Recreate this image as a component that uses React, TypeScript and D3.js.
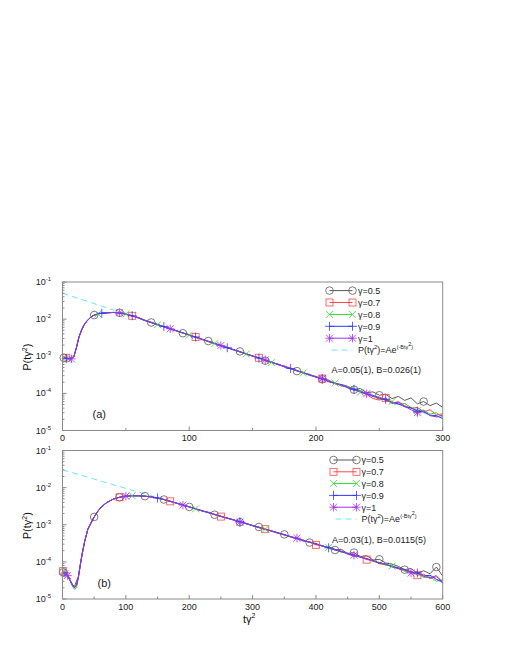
import React, { useEffect, useRef } from "react";
import * as d3 from "d3";

const labels = ["γ=0.5", "γ=0.7", "γ=0.8", "γ=0.9", "γ=1"];
const colors = ["#5a5a5a", "#ff4848", "#30d830", "#3434ff", "#a030f0"];
const shapes = ["circle", "square", "cross", "plus", "star"];

// panel (a) -- x is t*gamma^2, values are log10 P
const xA = [1, 3, 5, 7, 9, 11, 13, 15, 17, 19, 21, 23, 25, 28, 31, 35, 40, 45, 50, 55, 60,
  65, 70, 75, 80, 85, 90, 95, 100, 105, 110, 115, 120, 125, 130, 135, 140, 145, 150, 155, 160,
  165, 170, 175, 180, 185, 190, 195, 200, 205, 210, 215, 220, 225, 230, 235, 240, 245, 250,
  255, 260, 265, 270, 275, 280, 285, 290, 295, 300];
const a05 = [-3.04, -3.05, -3.06, -3.05, -3.0, -2.76, -2.48, -2.29, -2.16, -2.06, -1.99, -1.93, -1.89, -1.86, -1.84, -1.83, -1.82, -1.83, -1.86, -1.91, -1.96,
  -2.03, -2.09, -2.15, -2.2, -2.27, -2.31, -2.38, -2.42, -2.49, -2.55, -2.59, -2.66, -2.72, -2.76, -2.83, -2.87, -2.95, -2.99, -3.04, -3.12,
  -3.15, -3.23, -3.26, -3.33, -3.4, -3.43, -3.52, -3.54, -3.62, -3.64, -3.74, -3.76, -3.81, -3.9, -3.87, -3.98, -3.96, -4.05,
  -4.02, -4.14, -4.08, -4.19, -4.12, -4.28, -4.22, -4.33, -4.26, -4.38];
const a07 = [-3.03, -3.04, -3.05, -3.06, -3.01, -2.77, -2.49, -2.3, -2.16, -2.06, -1.99, -1.93, -1.89, -1.86, -1.84, -1.83, -1.82, -1.83, -1.86, -1.91, -1.97,
  -2.04, -2.1, -2.14, -2.21, -2.26, -2.32, -2.37, -2.44, -2.48, -2.55, -2.6, -2.65, -2.72, -2.77, -2.82, -2.89, -2.93, -3.0, -3.04, -3.11,
  -3.17, -3.21, -3.29, -3.33, -3.38, -3.46, -3.49, -3.57, -3.6, -3.69, -3.71, -3.8, -3.83, -3.92, -3.94, -4.03, -4.14, -4.18,
  -4.12, -4.27, -4.22, -4.33, -4.4, -4.38, -4.5, -4.44, -4.58, -4.55];
const a08 = [-3.06, -3.05, -3.07, -3.06, -3.0, -2.75, -2.47, -2.29, -2.15, -2.06, -1.98, -1.93, -1.89, -1.86, -1.84, -1.83, -1.82, -1.84, -1.86, -1.91, -1.96,
  -2.03, -2.08, -2.15, -2.21, -2.25, -2.32, -2.38, -2.43, -2.49, -2.54, -2.61, -2.66, -2.71, -2.78, -2.83, -2.88, -2.94, -2.99, -3.06, -3.1,
  -3.17, -3.22, -3.27, -3.34, -3.38, -3.45, -3.51, -3.55, -3.63, -3.66, -3.72, -3.8, -3.82, -3.86, -3.97, -4.0, -4.08, -4.1,
  -4.2, -4.22, -4.3, -4.27, -4.38, -4.47, -4.45, -4.56, -4.52, -4.64];
const a09 = [-3.05, -3.06, -3.06, -3.05, -3.01, -2.77, -2.48, -2.3, -2.16, -2.07, -1.99, -1.93, -1.89, -1.86, -1.84, -1.83, -1.82, -1.83, -1.87, -1.91, -1.97,
  -2.04, -2.09, -2.15, -2.2, -2.26, -2.31, -2.37, -2.43, -2.48, -2.54, -2.6, -2.65, -2.71, -2.77, -2.82, -2.88, -2.94, -2.99, -3.05, -3.11,
  -3.16, -3.22, -3.28, -3.33, -3.39, -3.44, -3.5, -3.56, -3.61, -3.68, -3.73, -3.77, -3.85, -3.89, -3.96, -4.02, -4.05, -4.13,
  -4.16, -4.25, -4.28, -4.36, -4.39, -4.48, -4.5, -4.59, -4.6, -4.68];
const a10 = [-3.07, -3.06, -3.08, -3.07, -3.02, -2.77, -2.49, -2.3, -2.16, -2.06, -1.99, -1.93, -1.9, -1.86, -1.84, -1.83, -1.82, -1.83, -1.86, -1.92, -1.96,
  -2.03, -2.09, -2.14, -2.21, -2.26, -2.32, -2.37, -2.42, -2.49, -2.54, -2.6, -2.66, -2.71, -2.77, -2.83, -2.88, -2.93, -3.0, -3.05, -3.1,
  -3.17, -3.21, -3.28, -3.32, -3.39, -3.45, -3.49, -3.56, -3.6, -3.67, -3.74, -3.77, -3.84, -3.91, -3.93, -4.01, -4.09, -4.11,
  -4.18, -4.26, -4.24, -4.35, -4.44, -4.52, -4.47, -4.6, -4.63, -4.59];
const fitAx = [0, 300];
const fitAy = [-1.3, -4.69];
// where each series puts its symbol (x, snapped to nearest sample)
const marksA = [
  [1, 25, 47.5, 70, 93, 115, 138, 161, 184, 207, 230, 252, 283],
  [3, 53, 103, 153, 203, 253],
  [5, 28, 50, 75, 98, 121, 144, 167, 190, 213, 236, 259, 282],
  [3, 30, 56, 81, 106, 131, 157, 182, 207, 232, 256, 282],
  [7, 46, 85, 124, 162, 203, 241, 281],
];

// panel (b)
const xB = [1, 4, 8, 12, 16, 19, 22, 25, 28, 31, 35, 40, 45, 50, 56, 62,
  70, 80, 90, 100, 110, 120, 130, 140, 150, 160, 170, 180, 190, 200,
  210, 220, 230, 240, 250, 260, 270, 280, 290, 300, 310, 320, 330, 340, 350, 360, 370, 380, 390, 400,
  410, 420, 430, 440, 450, 460, 470, 480, 490, 500, 510, 520, 530, 540, 550, 560, 570, 580, 590, 600];
const b05 = [-4.28, -4.3, -4.37, -4.5, -4.62, -4.66, -4.52, -4.4, -4.1, -3.79, -3.45, -3.12, -2.95, -2.79, -2.63, -2.51,
  -2.4, -2.31, -2.26, -2.23, -2.22, -2.22, -2.23, -2.25, -2.28, -2.32, -2.36, -2.42, -2.47, -2.52,
  -2.57, -2.63, -2.66, -2.73, -2.77, -2.83, -2.86, -2.93, -2.96, -3.03, -3.06, -3.13, -3.16, -3.23, -3.26, -3.33, -3.36, -3.41, -3.48, -3.5,
  -3.58, -3.6, -3.68, -3.66, -3.78, -3.75, -3.86, -3.83, -3.95, -3.93, -4.03, -4.06, -4.12, -4.21, -4.18, -4.3, -4.24, -4.32, -4.14, -4.38];
const b07 = [-4.25, -4.28, -4.36, -4.5, -4.64, -4.7, -4.64, -4.42, -4.09, -3.78, -3.45, -3.12, -2.95, -2.79, -2.63, -2.51,
  -2.4, -2.31, -2.26, -2.23, -2.22, -2.22, -2.23, -2.25, -2.28, -2.32, -2.37, -2.42, -2.46, -2.52,
  -2.58, -2.62, -2.68, -2.72, -2.78, -2.82, -2.87, -2.92, -2.98, -3.02, -3.08, -3.12, -3.17, -3.23, -3.27, -3.32, -3.38, -3.42, -3.46, -3.54,
  -3.56, -3.63, -3.66, -3.74, -3.76, -3.83, -3.86, -3.94, -3.96, -4.05, -4.08, -4.1, -4.19, -4.24, -4.25, -4.36, -4.33, -4.45, -4.4, -4.52];
const b08 = [-4.3, -4.31, -4.38, -4.52, -4.67, -4.74, -4.7, -4.44, -4.1, -3.78, -3.44, -3.12, -2.94, -2.79, -2.63, -2.51,
  -2.4, -2.31, -2.26, -2.23, -2.22, -2.22, -2.23, -2.25, -2.28, -2.32, -2.37, -2.41, -2.47, -2.51,
  -2.57, -2.62, -2.67, -2.73, -2.77, -2.82, -2.88, -2.92, -2.97, -3.02, -3.07, -3.12, -3.18, -3.22, -3.27, -3.33, -3.37, -3.42, -3.47, -3.52,
  -3.58, -3.61, -3.67, -3.73, -3.76, -3.84, -3.86, -3.91, -3.99, -4.01, -4.09, -4.11, -4.16, -4.25, -4.29, -4.31, -4.42, -4.4, -4.52, -4.48];
const b09 = [-4.28, -4.3, -4.36, -4.49, -4.63, -4.69, -4.63, -4.41, -4.08, -3.78, -3.45, -3.12, -2.95, -2.79, -2.63, -2.51,
  -2.4, -2.31, -2.26, -2.23, -2.22, -2.22, -2.23, -2.25, -2.28, -2.32, -2.37, -2.42, -2.47, -2.52,
  -2.57, -2.62, -2.67, -2.72, -2.77, -2.82, -2.87, -2.92, -2.97, -3.02, -3.07, -3.12, -3.17, -3.22, -3.27, -3.32, -3.37, -3.43, -3.47, -3.52,
  -3.57, -3.62, -3.68, -3.72, -3.78, -3.81, -3.88, -3.91, -3.97, -4.03, -4.06, -4.13, -4.16, -4.22, -4.27, -4.3, -4.38, -4.36, -4.47, -4.55];
const b10 = [-4.31, -4.32, -4.37, -4.5, -4.64, -4.7, -4.62, -4.42, -4.09, -3.79, -3.45, -3.12, -2.95, -2.79, -2.63, -2.51,
  -2.4, -2.31, -2.26, -2.23, -2.22, -2.22, -2.23, -2.25, -2.28, -2.32, -2.37, -2.42, -2.47, -2.52,
  -2.57, -2.63, -2.67, -2.72, -2.78, -2.82, -2.87, -2.93, -2.97, -3.02, -3.08, -3.12, -3.17, -3.21, -3.28, -3.32, -3.36, -3.44, -3.46, -3.53,
  -3.56, -3.63, -3.66, -3.71, -3.79, -3.82, -3.85, -3.93, -3.96, -4.04, -4.05, -4.14, -4.18, -4.2, -4.3, -4.27, -4.39, -4.43, -4.37, -4.58];
const fitBx = [0, 600];
const fitBy = [-1.52, -4.52];
const marksB = [
  [1, 51, 88, 126, 165, 203, 238, 276, 314, 352, 390, 427, 465, 505, 543, 589],
  [1, 88, 167, 246, 325, 404, 483, 563],
  [4, 109, 212, 316, 420, 523],
  [4, 146, 284, 422, 560],
  [8, 97, 188, 279, 370, 461, 552],
];

const xTicksA = [0, 100, 200, 300];
const xTicksB = [0, 100, 200, 300, 400, 500, 600];
const yExps = [-1, -2, -3, -4, -5];

const FONT = "'Liberation Sans', Arial, Helvetica, sans-serif";

function drawMarker(g, shape, x, y, color) {
  const s = 3.5;
  if (shape === "circle") {
    g.append("circle").attr("cx", x).attr("cy", y).attr("r", 3.8)
      .attr("fill", "none").attr("stroke", color).attr("stroke-width", 0.8);
  } else if (shape === "square") {
    g.append("rect").attr("x", x - s).attr("y", y - s).attr("width", 2 * s).attr("height", 2 * s)
      .attr("fill", "none").attr("stroke", color).attr("stroke-width", 0.8);
  } else {
    let d = "";
    if (shape === "cross" || shape === "star")
      d += `M${x - s},${y - s}L${x + s},${y + s}M${x - s},${y + s}L${x + s},${y - s}`;
    if (shape === "plus") {
      const p = 4.5;
      d += `M${x - p},${y}L${x + p},${y}M${x},${y - p}L${x},${y + p}`;
    }
    if (shape === "star") {
      const p = 4.2;
      d += `M${x - p},${y}L${x + p},${y}M${x},${y - p}L${x},${y + p}`;
    }
    g.append("path").attr("d", d).attr("fill", "none").attr("stroke", color).attr("stroke-width", 0.8);
  }
}

function drawPanel(svg, cfg) {
  const x = d3.scaleLinear().domain([0, cfg.xMax]).range([62.5, 442.7]);
  const y = d3.scaleLog().domain([1e-5, 1e-1]).range([cfg.bottom, cfg.top]);
  const g = svg.append("g");

  // fit line
  const line = d3.line().x((d) => x(d[0])).y((d) => y(Math.pow(10, d[1])));
  g.append("path")
    .datum(cfg.fitX.map((v, i) => [v, cfg.fitY[i]]))
    .attr("d", line)
    .attr("fill", "none")
    .attr("stroke", "#6ee8f0")
    .attr("stroke-width", 1)
    .attr("stroke-dasharray", "6,4");

  cfg.series.forEach((ys, k) => {
    const pts = cfg.xs.map((v, i) => [v, ys[i]]).filter((d) => d[1] !== undefined);
    g.append("path")
      .datum(pts)
      .attr("d", line)
      .attr("fill", "none")
      .attr("stroke", colors[k])
      .attr("stroke-width", 1);
  });
  cfg.series.forEach((ys, k) => {
    cfg.marks[k].forEach((mx) => {
      const i = d3.leastIndex(cfg.xs, (v) => Math.abs(v - mx));
      drawMarker(g, shapes[k], x(cfg.xs[i]), y(Math.pow(10, ys[i])), colors[k]);
    });
  });

  // frame
  g.append("rect")
    .attr("x", 62.5).attr("y", cfg.top)
    .attr("width", 442.7 - 62.5).attr("height", cfg.bottom - cfg.top)
    .attr("fill", "none").attr("stroke", "#8a8a8a").attr("stroke-width", 1);

  // x ticks (inward)
  const xt = d3.range(0, cfg.xMax + 1, 50);
  xt.forEach((t) => {
    const len = t % 100 === 0 ? 4 : 2.5;
    g.append("line").attr("x1", x(t)).attr("x2", x(t))
      .attr("y1", cfg.bottom).attr("y2", cfg.bottom - len)
      .attr("stroke", "#8a8a8a");
  });
  cfg.xTicks.forEach((t) => {
    g.append("text").attr("x", x(t)).attr("y", cfg.bottom + 10.5)
      .attr("text-anchor", "middle").attr("font-size", 9).attr("font-family", FONT)
      .attr("fill", "#222").text(t);
  });

  // y ticks, log
  for (let e = -5; e < -1 + 1; e++) {
    const base = Math.pow(10, e);
    g.append("line").attr("x1", 62.5).attr("x2", 66.5)
      .attr("y1", y(base)).attr("y2", y(base)).attr("stroke", "#8a8a8a");
    if (e < -1) {
      for (let m = 2; m < 10; m++) {
        g.append("line").attr("x1", 62.5).attr("x2", 64.5)
          .attr("y1", y(base * m)).attr("y2", y(base * m)).attr("stroke", "#8a8a8a");
      }
    }
  }
  yExps.forEach((e) => {
    const t = g.append("text").attr("x", 51).attr("y", y(Math.pow(10, e)) + 3)
      .attr("text-anchor", "end").attr("font-size", 9).attr("font-family", FONT).attr("fill", "#222");
    t.append("tspan").text("10");
    t.append("tspan").attr("dy", -4).attr("font-size", 6).text(String(e));
  });

  // y label
  const yl = g.append("text")
    .attr("transform", `translate(31,${(cfg.top + cfg.bottom) / 2 + 1}) rotate(-90)`)
    .attr("text-anchor", "middle").attr("font-size", 11).attr("font-family", FONT).attr("fill", "#111");
  yl.append("tspan").text("P(tγ");
  yl.append("tspan").attr("dy", -4.5).attr("font-size", 7).text("2");
  yl.append("tspan").attr("dy", 4.5).text(")");

  // legend
  labels.forEach((lab, k) => {
    const ly = cfg.legY + k * cfg.legStep;
    g.append("line").attr("x1", cfg.legX1).attr("x2", cfg.legX2).attr("y1", ly).attr("y2", ly)
      .attr("stroke", colors[k]).attr("stroke-width", 1);
    drawMarker(g, shapes[k], cfg.legX1, ly, colors[k]);
    drawMarker(g, shapes[k], cfg.legX2, ly, colors[k]);
    g.append("text").attr("x", cfg.legTx).attr("y", ly + 3.3)
      .attr("font-size", 9).attr("font-family", FONT).attr("fill", "#222").text(lab);
  });
  const fy = cfg.legY + 5 * cfg.legStep;
  g.append("line").attr("x1", cfg.legX1 + 2).attr("x2", cfg.legX2)
    .attr("y1", fy).attr("y2", fy).attr("stroke", "#6ee8f0").attr("stroke-dasharray", "6,4");
  const ft = g.append("text").attr("x", cfg.legTx).attr("y", fy + 3.3)
    .attr("font-size", 9).attr("font-family", FONT).attr("fill", "#222");
  ft.append("tspan").text("P(tγ");
  ft.append("tspan").attr("dy", -4).attr("font-size", 6).text("2");
  ft.append("tspan").attr("dy", 4).text(")=Ae");
  ft.append("tspan").attr("dy", -4.5).attr("font-size", 5.5).text("(-Btγ");
  ft.append("tspan").attr("dy", -3).attr("font-size", 5.5).text("2");
  ft.append("tspan").attr("dy", 3).attr("font-size", 5.5).text(")");

  g.append("text").attr("x", cfg.noteX).attr("y", cfg.noteY)
    .attr("font-size", 9).attr("font-family", FONT).attr("fill", "#222").text(cfg.note);
  g.append("text").attr("x", cfg.tagX).attr("y", cfg.tagY)
    .attr("font-size", 11).attr("font-family", FONT).attr("fill", "#222").text(cfg.tag);
}

const App = () => {
  const ref = useRef(null);

  useEffect(() => {
    const svg = d3.select(ref.current);
    svg.selectAll("*").remove();

    drawPanel(svg, {
      top: 282, bottom: 430.5, xMax: 300, xTicks: xTicksA,
      xs: xA, series: [a05, a07, a08, a09, a10], marks: marksA,
      fitX: fitAx, fitY: fitAy,
      legY: 290.6, legStep: 11.9, legX1: 329.5, legX2: 352.5, legTx: 358,
      note: "A=0.05(1), B=0.026(1)", noteX: 331.5, noteY: 372.5,
      tag: "(a)", tagX: 92.5, tagY: 418,
    });
    drawPanel(svg, {
      top: 450.5, bottom: 599, xMax: 600, xTicks: xTicksB,
      xs: xB, series: [b05, b07, b08, b09, b10], marks: marksB,
      fitX: fitBx, fitY: fitBy,
      legY: 460, legStep: 11.8, legX1: 333.5, legX2: 356.5, legTx: 361.5,
      note: "A=0.03(1), B=0.0115(5)", noteX: 332, noteY: 542.5,
      tag: "(b)", tagX: 97.5, tagY: 587,
    });

    const xl = svg.append("text").attr("x", 243).attr("y", 623)
      .attr("font-size", 11).attr("font-family", FONT).attr("fill", "#111");
    xl.append("tspan").text("tγ");
    xl.append("tspan").attr("dy", -5.5).attr("font-size", 7).text("2");
  }, []);

  return (
    <div>
      <svg ref={ref} width={505} height={654}
        style={{ position: "absolute", left: 0, top: 0, background: "#fff" }} />
    </div>
  );
};

export default App;
